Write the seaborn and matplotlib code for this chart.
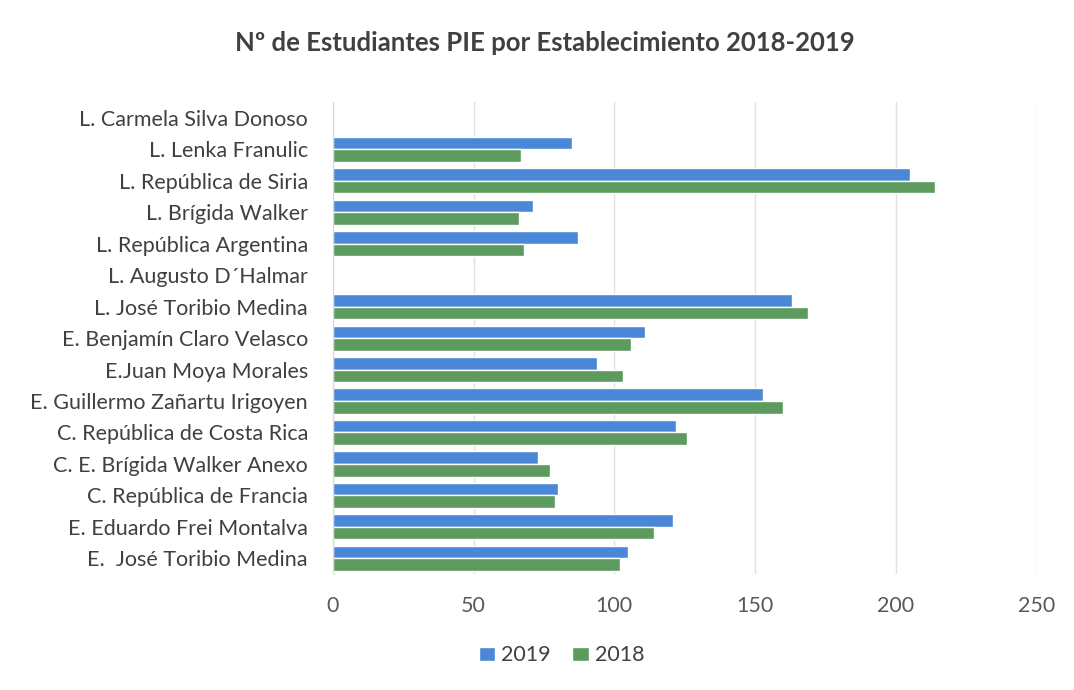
import numpy as np
import pandas as pd
import matplotlib
matplotlib.use("Agg")
import matplotlib.pyplot as plt
import seaborn as sns

establecimientos = [
    "L. Carmela Silva Donoso",
    "L. Lenka Franulic",
    "L. República de Siria",
    "L. Brígida Walker",
    "L. República Argentina",
    "L. Augusto D´Halmar",
    "L. José Toribio Medina",
    "E. Benjamín Claro Velasco",
    "E.Juan Moya Morales",
    "E. Guillermo Zañartu Irigoyen",
    "C. República de Costa Rica",
    "C. E. Brígida Walker Anexo",
    "C. República de Francia",
    "E. Eduardo Frei Montalva",
    "E.  José Toribio Medina",
]
est_2019 = [0, 85, 205, 71, 87, 0, 163, 111, 94, 153, 122, 73, 80, 121, 105]
est_2018 = [0, 67, 214, 66, 68, 0, 169, 106, 103, 160, 126, 77, 79, 114, 102]
anios = ["2019", "2018"]
colores = ["#4a87d6", "#5c9a5e"]

df = pd.DataFrame({
    "Establecimiento": establecimientos * 2,
    "Año": [anios[0]] * len(establecimientos) + [anios[1]] * len(establecimientos),
    "Estudiantes": est_2019 + est_2018,
})

sns.set_style("white")
plt.rcParams["font.family"] = ["Lato", "DejaVu Sans"]

fig, ax = plt.subplots(figsize=(10.74, 6.9), dpi=100)
fig.subplots_adjust(left=0.31, right=0.965, top=0.852, bottom=0.168)

sns.barplot(data=df, x="Estudiantes", y="Establecimiento", hue="Año",
            hue_order=anios, palette=colores, orient="h",
            width=0.8, gap=0, saturation=1, ax=ax)

ax.set_xlim(0, 250)
ax.set_xticks(np.arange(0, 251, 50))
ax.xaxis.grid(True, color="#e0e0e0", linewidth=1)
ax.set_axisbelow(True)
for s in ["top", "right", "bottom"]:
    ax.spines[s].set_visible(False)
ax.spines["left"].set_color("#d9d9d9")
ax.set_xlabel("")
ax.set_ylabel("")
ax.tick_params(axis="x", length=0, labelsize=15.5, colors="#595959", pad=16)
ax.tick_params(axis="y", length=0, labelsize=15.5, colors="#404040", pad=18)

fig.suptitle("Nº de Estudiantes PIE por Establecimiento 2018-2019",
             fontsize=18.5, fontweight="bold", color="#404040",
             x=0.507, y=0.955)

leg = ax.legend(loc="upper center", bbox_to_anchor=(0.325, -0.11), ncol=2,
                frameon=False, fontsize=15.5, handlelength=0.75, handleheight=0.6,
                handletextpad=0.3, columnspacing=1.0)
for t in leg.get_texts():
    t.set_color("#404040")

fig.savefig("out.png", dpi=100, facecolor="white")
